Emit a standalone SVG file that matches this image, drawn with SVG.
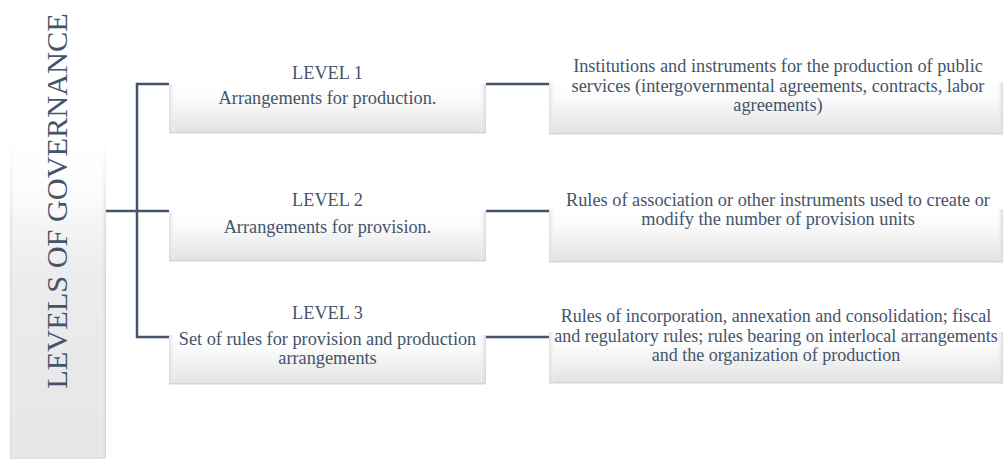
<svg xmlns="http://www.w3.org/2000/svg" width="1005" height="461" viewBox="0 0 1005 461">
<defs>
<linearGradient id="boxg" x1="0" y1="0" x2="0" y2="1">
<stop offset="0" stop-color="#ffffff"/>
<stop offset="0.3" stop-color="#fbfbfb"/>
<stop offset="1" stop-color="#e2e2e2"/>
</linearGradient>
<linearGradient id="panelg" x1="0" y1="0" x2="0" y2="1">
<stop offset="0" stop-color="#ffffff"/>
<stop offset="0.4" stop-color="#fbfbfb"/>
<stop offset="0.6" stop-color="#ececec"/>
<stop offset="1" stop-color="#e6e6e6"/>
</linearGradient>
<linearGradient id="fade" x1="0" y1="0" x2="0" y2="1">
<stop offset="0" stop-color="#ffffff" stop-opacity="1"/>
<stop offset="0.6" stop-color="#ffffff" stop-opacity="1"/>
<stop offset="1" stop-color="#ffffff" stop-opacity="0"/>
</linearGradient>
<linearGradient id="edgeL" x1="0" y1="0" x2="1" y2="0">
<stop offset="0" stop-color="#d8d8d8" stop-opacity="0.8"/>
<stop offset="1" stop-color="#ffffff" stop-opacity="0"/>
</linearGradient>
<linearGradient id="edgeR" x1="1" y1="0" x2="0" y2="0">
<stop offset="0" stop-color="#d0d0d0" stop-opacity="0.8"/>
<stop offset="1" stop-color="#ffffff" stop-opacity="0"/>
</linearGradient>
</defs>
<style>
.box{fill:url(#boxg);}
.el{fill:url(#edgeL);}
.er{fill:url(#edgeR);}
.bot{fill:#d6d6d6;}
.t{font-family:"Liberation Serif","Times New Roman",serif;font-size:18.3px;fill:#44546A;text-anchor:middle;}
.conn{stroke:#44546A;stroke-width:2.5;fill:none;}
</style>
<g id="panel">
<rect x="10" y="0" width="96" height="459" fill="url(#panelg)"/>
<rect x="10" y="0" width="6" height="459" class="el"/>
<rect x="99" y="0" width="7" height="459" class="er"/>
<rect x="10" y="457" width="96" height="2" fill="#e0e0e0"/>
<rect x="6" y="0" width="104" height="230" fill="url(#fade)"/>
<text x="67" y="201" transform="rotate(-90 67 201)" font-family="Liberation Serif, Times New Roman, serif" font-size="30.3" fill="#44546A" text-anchor="middle">LEVELS OF GOVERNANCE</text>
</g>
<g id="connectors">
<path class="conn" d="M169 84 H137 V337 H169"/>
<path class="conn" d="M106 211 H169"/>
<path class="conn" d="M486 84 H549"/>
<path class="conn" d="M486 211 H549"/>
<path class="conn" d="M486 337 H549"/>
</g>
<g id="level1">
<rect x="169" y="84" width="317" height="49" class="box"/>
<rect x="169" y="84" width="7" height="49" class="el"/>
<rect x="479" y="84" width="7" height="49" class="er"/>
<rect x="169" y="132" width="317" height="1.5" class="bot"/>
<text class="t" x="327.5" y="79">LEVEL 1</text>
<text class="t" x="327.5" y="104">Arrangements for production.</text>
</g>
<g id="level1-detail">
<rect x="549" y="82" width="454" height="52" class="box"/>
<rect x="549" y="82" width="7" height="52" class="el"/>
<rect x="996" y="82" width="7" height="52" class="er"/>
<rect x="549" y="133" width="454" height="1.5" class="bot"/>
<text class="t" x="778" y="72">Institutions and instruments for the production of public</text>
<text class="t" x="778" y="92">services (intergovernmental agreements, contracts, labor</text>
<text class="t" x="778" y="111">agreements)</text>
</g>
<g id="level2">
<rect x="169" y="211" width="317" height="50" class="box"/>
<rect x="169" y="211" width="7" height="50" class="el"/>
<rect x="479" y="211" width="7" height="50" class="er"/>
<rect x="169" y="260" width="317" height="1.5" class="bot"/>
<text class="t" x="327.5" y="206">LEVEL 2</text>
<text class="t" x="327.5" y="233">Arrangements for provision.</text>
</g>
<g id="level2-detail">
<rect x="549" y="209" width="454" height="53" class="box"/>
<rect x="549" y="209" width="7" height="53" class="el"/>
<rect x="996" y="209" width="7" height="53" class="er"/>
<rect x="549" y="261" width="454" height="1.5" class="bot"/>
<text class="t" x="778" y="206">Rules of association or other instruments used to create or</text>
<text class="t" x="778" y="225">modify the number of provision units</text>
</g>
<g id="level3">
<rect x="169" y="335" width="317" height="49" class="box"/>
<rect x="169" y="335" width="7" height="49" class="el"/>
<rect x="479" y="335" width="7" height="49" class="er"/>
<rect x="169" y="383" width="317" height="1.5" class="bot"/>
<text class="t" x="327.5" y="319">LEVEL 3</text>
<text class="t" x="327.5" y="345">Set of rules for provision and production</text>
<text class="t" x="327.5" y="364">arrangements</text>
</g>
<g id="level3-detail">
<rect x="549" y="332" width="454" height="51" class="box"/>
<rect x="549" y="332" width="7" height="51" class="el"/>
<rect x="996" y="332" width="7" height="51" class="er"/>
<rect x="549" y="382" width="454" height="1.5" class="bot"/>
<text class="t" x="776" y="322" style="font-size:18px">Rules of incorporation, annexation and consolidation; fiscal</text>
<text class="t" x="776" y="342" style="font-size:18px">and regulatory rules; rules bearing on interlocal arrangements</text>
<text class="t" x="776" y="361" style="font-size:18px">and the organization of production</text>
</g>
</svg>
